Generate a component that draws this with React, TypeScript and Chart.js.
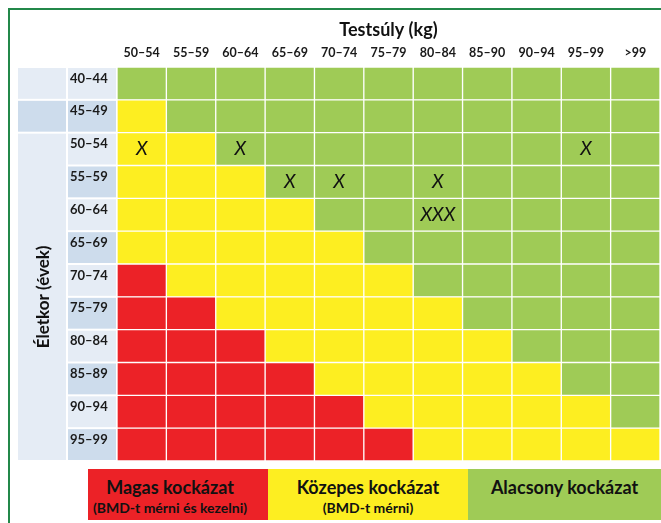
import React, { useEffect, useRef } from "react";
import { Chart, registerables } from "chart.js";

Chart.register(...registerables);

// ---- data ----
const weightBands = ["50–54", "55–59", "60–64", "65–69", "70–74", "75–79", "80–84", "85–90", "90–94", "95–99", ">99"];
const ageBands = ["40–44", "45–49", "50–54", "55–59", "60–64", "65–69", "70–74", "75–79", "80–84", "85–89", "90–94", "95–99"];
// risk class per age row (top → bottom), one letter per weight column: H = magas, M = közepes, L = alacsony
const riskRows = [
  "LLLLLLLLLLL",
  "MLLLLLLLLLL",
  "MMLLLLLLLLL",
  "MMMLLLLLLLL",
  "MMMMLLLLLLL",
  "MMMMMLLLLLL",
  "HMMMMMLLLLL",
  "HHMMMMMLLLL",
  "HHHMMMMMLLL",
  "HHHHMMMMMLL",
  "HHHHHMMMMML",
  "HHHHHHMMMMM",
];
const markAges = ["50–54", "50–54", "50–54", "55–59", "55–59", "55–59", "60–64"];
const markWeights = ["50–54", "60–64", "95–99", "65–69", "70–74", "80–84", "80–84"];
const markTexts = ["X", "X", "X", "X", "X", "X", "XXX"];
const xTitle = "Testsúly (kg)";
const yTitle = "Életkor (évek)";
const legendTitles = ["Magas kockázat", "Közepes kockázat", "Alacsony kockázat"];
const legendNotes = ["(BMD-t mérni és kezelni)", "(BMD-t mérni)", ""];

// ---- styles ----
const FONT = "Lato, 'Open Sans', sans-serif";
const RED = "#ec2227";
const YELLOW = "#fdee21";
const GREEN = "#9fcb56";
const LIGHT = "#e5ecf5";
const DARK = "#cddcec";
const riskColor: Record<string, string> = { H: RED, M: YELLOW, L: GREEN };

const sidePlugin = {
  id: "sidePlugin",
  beforeDatasetsDraw(chart: any) {
    const { ctx } = chart;
    const ys = chart.scales.y;
    const left = ys.left;
    const right = ys.right;
    const mid = left + 50;
    const half = Math.abs(ys.getPixelForValue(1) - ys.getPixelForValue(0)) / 2;
    ctx.save();
    ctx.fillStyle = "#ffffff";
    ctx.fillRect(left, ys.top, right - left, ys.bottom - ys.top);
    ageBands.forEach((age, r) => {
      const c = ys.getPixelForValue(r);
      const t = c - half;
      const b = c + half;
      ctx.fillStyle = r % 2 === 0 ? LIGHT : DARK;
      ctx.fillRect(mid + 1, t + 1, right - mid - 2, b - t - 2);
      if (r < 2) {
        ctx.fillRect(left + 1, t + 1, mid - left - 2, b - t - 2);
      }
    });
    const mt = ys.getPixelForValue(2) - half;
    const mb = ys.getPixelForValue(ageBands.length - 1) + half;
    ctx.fillStyle = LIGHT;
    ctx.fillRect(left + 1, mt + 1, mid - left - 2, mb - mt - 2);
    ctx.fillStyle = "#1a1a1a";
    ctx.font = `bold 13px ${FONT}`;
    ctx.textAlign = "left";
    ctx.textBaseline = "middle";
    ageBands.forEach((age, r) => {
      ctx.fillText(age, mid + 3, ys.getPixelForValue(r) - 5);
    });
    ctx.translate((left + mid) / 2 + 2, (mt + mb) / 2);
    ctx.rotate(-Math.PI / 2);
    ctx.font = `bold 17px ${FONT}`;
    ctx.textAlign = "center";
    ctx.fillStyle = "#111111";
    ctx.fillText(yTitle, 0, 0);
    ctx.restore();
  },
  afterDatasetsDraw(chart: any) {
    const { ctx } = chart;
    const xs = chart.scales.x2;
    const ys = chart.scales.y;
    ctx.save();
    ctx.fillStyle = "#111111";
    ctx.font = `italic 19px ${FONT}`;
    ctx.textAlign = "center";
    ctx.textBaseline = "middle";
    markTexts.forEach((t, i) => {
      const x = xs.getPixelForValue(weightBands.indexOf(markWeights[i]));
      const y = ys.getPixelForValue(ageBands.indexOf(markAges[i]));
      ctx.fillText(t, x, y);
    });
    ctx.restore();
  },
};

export default function App() {
  const ref = useRef<HTMLCanvasElement>(null);

  useEffect(() => {
    if (!ref.current) return;
    const datasets = weightBands.map((w, c) => ({
      label: w,
      data: ageBands.map((age) => ({ y: age, x: [c, c + 1] })),
      backgroundColor: ageBands.map((_, r) => riskColor[riskRows[r][c]]),
      borderColor: "#ffffff",
      borderWidth: 1,
      borderSkipped: false,
      grouped: false,
      barPercentage: 1,
      categoryPercentage: 1,
      xAxisID: "x",
      yAxisID: "y",
    }));
    const chart = new Chart(ref.current, {
      type: "bar",
      data: { labels: ageBands, datasets: datasets as any },
      options: {
        indexAxis: "y",
        animation: false,
        responsive: false,
        devicePixelRatio: 1,
        layout: { padding: { left: 17, right: 1, top: 9, bottom: 62 } },
        plugins: { legend: { display: false }, tooltip: { enabled: false }, title: { display: false } },
        scales: {
          x: { type: "linear", display: false, min: 0, max: weightBands.length },
          x2: {
            type: "category",
            labels: weightBands,
            position: "top",
            offset: true,
            grid: { display: false, drawTicks: false },
            border: { display: false },
            ticks: { font: { family: FONT, weight: "bold", size: 12.5 }, color: "#1a1a1a", padding: 7, maxRotation: 0, autoSkip: false },
            title: { display: true, text: xTitle, font: { family: FONT, weight: "bold", size: 18 }, color: "#111111", padding: { top: 10, bottom: 0 } },
            afterFit: (s: any) => { s.height = 58; },
          },
          y: {
            type: "category",
            position: "left",
            offset: true,
            grid: { display: false, drawTicks: false },
            border: { display: false },
            ticks: { display: false },
            afterFit: (s: any) => { s.width = 100; },
          },
        },
      } as any,
      plugins: [sidePlugin],
    });
    return () => chart.destroy();
  }, []);

  const boxes = [
    { left: 88, width: 180, color: RED, shift: 16 },
    { left: 268, width: 200, color: YELLOW, shift: 0 },
    { left: 468, width: 193, color: GREEN, shift: 0 },
  ];

  return (
    <div style={{ position: "absolute", left: 0, top: 0, width: 661, height: 523, overflow: "hidden", background: "#fff", fontFamily: FONT }}>
      <canvas ref={ref} width={661} height={523} style={{ position: "absolute", left: 0, top: 0, width: 661, height: 523 }} />
      <div style={{ position: "absolute", left: 8, top: 8, width: 660, height: 520, borderTop: "2px solid #23884a", borderLeft: "2px solid #23884a" }} />
      {boxes.map((b, i) => (
        <div key={i} style={{ position: "absolute", left: b.left, top: 469, width: b.width - b.shift, paddingRight: b.shift, height: 51, background: b.color, color: "#111", fontWeight: 700, textAlign: "center", whiteSpace: "nowrap" }}>
          <div style={{ fontSize: 18, lineHeight: "20px", marginTop: 8 }}>{legendTitles[i]}</div>
          <div style={{ fontSize: 14, lineHeight: "16px", marginTop: 3 }}>{legendNotes[i]}</div>
        </div>
      ))}
    </div>
  );
}
